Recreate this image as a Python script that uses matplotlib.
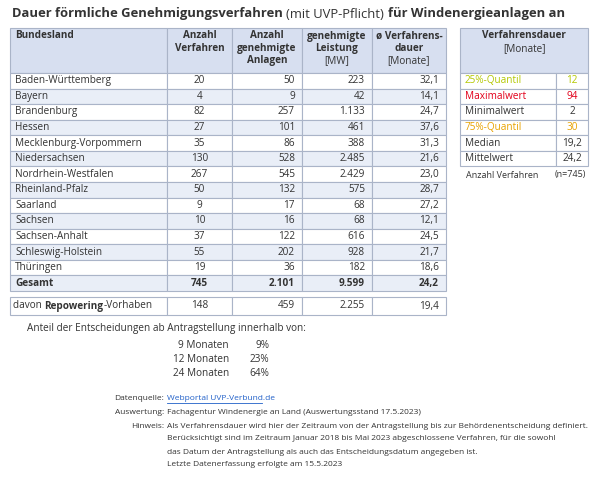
import matplotlib.pyplot as plt
from matplotlib.patches import Rectangle

plt.rcParams['font.family'] = ['Open Sans', 'DejaVu Sans']

laender = ['Baden-Württemberg', 'Bayern', 'Brandenburg', 'Hessen', 'Mecklenburg-Vorpommern',
           'Niedersachsen', 'Nordrhein-Westfalen', 'Rheinland-Pfalz', 'Saarland', 'Sachsen',
           'Sachsen-Anhalt', 'Schleswig-Holstein', 'Thüringen']
verfahren = ['20', '4', '82', '27', '35', '130', '267', '50', '9', '10', '37', '55', '19']
anlagen = ['50', '9', '257', '101', '86', '528', '545', '132', '17', '16', '122', '202', '36']
leistung = ['223', '42', '1.133', '461', '388', '2.485', '2.429', '575', '68', '68', '616', '928', '182']
dauer = ['32,1', '14,1', '24,7', '37,6', '31,3', '21,6', '23,0', '28,7', '27,2', '12,1', '24,5', '21,7', '18,6']
gesamt = ['745', '2.101', '9.599', '24,2']
repowering = ['148', '459', '2.255', '19,4']

stat_labels = ['25%-Quantil', 'Maximalwert', 'Minimalwert', '75%-Quantil', 'Median', 'Mittelwert']
stat_values = ['12', '94', '2', '30', '19,2', '24,2']
stat_colors = ['#b4c800', '#e2001a', '#333333', '#e8a200', '#333333', '#333333']

anteil_labels = ['9 Monaten', '12 Monaten', '24 Monaten']
anteil_values = ['9%', '23%', '64%']

fig = plt.figure(figsize=(5.96, 4.83), dpi=100)
ax = fig.add_axes([0, 0, 1, 1])
ax.set_xlim(0, 596)
ax.set_ylim(483, 0)
ax.axis('off')
renderer = fig.canvas.get_renderer()

txt = '#333333'
head_bg = '#d7dff0'
stripe = '#e9eef7'
edge = '#aab4c8'
fs = 7.2

def cell(x0, y0, w, h, fc='white'):
    ax.add_patch(Rectangle((x0, y0), w, h, facecolor=fc, edgecolor=edge, lw=0.8))

def chain(x, y, parts, size):
    # draw text pieces one after another on the same line
    for s, w in parts:
        t = ax.text(x, y, s, fontsize=size, fontweight=w, color=txt, va='center')
        bb = t.get_window_extent(renderer)
        x += bb.width * 596 / fig.bbox.width

chain(12, 14, [('Dauer förmliche Genehmigungsverfahren ', 'bold'), ('(mit UVP-Pflicht) ', 'normal'),
               ('für Windenergieanlagen an', 'bold')], 9.4)

cols = [10, 167, 232, 302, 372, 446]
top, hh, rh = 28, 45, 15.57
heads = [['Bundesland'], ['Anzahl', 'Verfahren'], ['Anzahl', 'genehmigte', 'Anlagen'],
         ['genehmigte', 'Leistung', '[MW]'], ['ø Verfahrens-', 'dauer', '[Monate]']]
for i, h in enumerate(heads):
    cell(cols[i], top, cols[i + 1] - cols[i], hh, head_bg)
    for j, line in enumerate(h):
        bold = not line.startswith('[')
        if i == 0:
            ax.text(cols[0] + 5, top + 8, line, fontsize=fs, fontweight='bold', color=txt, va='center')
        else:
            ax.text((cols[i] + cols[i + 1]) / 2, top + 8 + j * 12.5, line, fontsize=fs,
                    fontweight='bold' if bold else 'normal', color=txt, ha='center', va='center')

rows = [[l, a, b, c, d] for l, a, b, c, d in zip(laender, verfahren, anlagen, leistung, dauer)]
rows.append(['Gesamt'] + gesamt)
for r, row in enumerate(rows):
    y = top + hh + r * rh
    bold = r == len(rows) - 1
    fc = stripe if (r % 2 == 1 or bold) else 'white'
    for i in range(5):
        cell(cols[i], y, cols[i + 1] - cols[i], rh, fc)
    w = 'bold' if bold else 'normal'
    ax.text(cols[0] + 5, y + rh / 2, row[0], fontsize=fs, fontweight=w, color=txt, va='center')
    ax.text((cols[1] + cols[2]) / 2, y + rh / 2, row[1], fontsize=fs, fontweight=w, color=txt, ha='center', va='center')
    for i in (2, 3, 4):
        ax.text(cols[i + 1] - 7, y + rh / 2, row[i], fontsize=fs, fontweight=w, color=txt, ha='right', va='center')

# repowering row
y = 297
for i in range(5):
    cell(cols[i], y, cols[i + 1] - cols[i], 18)
chain(cols[0] + 3, y + 9, [('davon ', 'normal'), ('Repowering', 'bold'), ('-Vorhaben', 'normal')], fs)
ax.text((cols[1] + cols[2]) / 2, y + 9, repowering[0], fontsize=fs, color=txt, ha='center', va='center')
for i in (2, 3, 4):
    ax.text(cols[i + 1] - 7, y + 9, repowering[i - 1], fontsize=fs, color=txt, ha='right', va='center')

# right table
rx0, rx1, rx2 = 460, 556, 588
cell(rx0, top, rx2 - rx0, hh, head_bg)
ax.text((rx0 + rx2) / 2, top + 8, 'Verfahrensdauer', fontsize=fs, fontweight='bold', color=txt, ha='center', va='center')
ax.text((rx0 + rx2) / 2, top + 20.5, '[Monate]', fontsize=fs, color=txt, ha='center', va='center')
for r, (lab, val, c) in enumerate(zip(stat_labels, stat_values, stat_colors)):
    y = top + hh + r * rh
    cell(rx0, y, rx1 - rx0, rh)
    cell(rx1, y, rx2 - rx1, rh)
    ax.text(rx0 + 5, y + rh / 2, lab, fontsize=fs, color=c, va='center')
    ax.text((rx1 + rx2) / 2, y + rh / 2, val, fontsize=fs, color=c, ha='center', va='center')
ax.text(466, 175, 'Anzahl Verfahren', fontsize=6.5, color=txt, va='center')
ax.text(586, 175, '(n=745)', fontsize=6.5, color=txt, ha='right', va='center')

# shares
ax.text(27, 329, 'Anteil der Entscheidungen ab Antragstellung innerhalb von:', fontsize=fs, color=txt, va='center')
for k, (lab, val) in enumerate(zip(anteil_labels, anteil_values)):
    ax.text(229, 345 + k * 14, lab, fontsize=fs, color=txt, ha='right', va='center')
    ax.text(269, 345 + k * 14, val, fontsize=fs, color=txt, ha='right', va='center')

# notes
nf = 6.0
ax.text(164, 398, 'Datenquelle:', fontsize=nf, color=txt, ha='right', va='center')
ax.text(167, 398, 'Webportal UVP-Verbund.de', fontsize=nf, color='#1f5fc8', va='center')
ax.plot([167, 262], [402.5, 402.5], color='#1f5fc8', lw=0.6)
ax.text(164, 412, 'Auswertung:', fontsize=nf, color=txt, ha='right', va='center')
ax.text(167, 412, 'Fachagentur Windenergie an Land (Auswertungsstand 17.5.2023)', fontsize=nf, color=txt, va='center')
ax.text(164, 426, 'Hinweis:', fontsize=nf, color=txt, ha='right', va='center')
hinweis = ['Als Verfahrensdauer wird hier der Zeitraum von der Antragstellung bis zur Behördenentscheidung definiert.',
           'Berücksichtigt sind im Zeitraum Januar 2018 bis Mai 2023 abgeschlossene Verfahren, für die sowohl',
           'das Datum der Antragstellung als auch das Entscheidungsdatum angegeben ist.',
           'Letzte Datenerfassung erfolgte am 15.5.2023']
for k, line in enumerate(hinweis):
    ax.text(167, 426 + k * 13, line, fontsize=nf, color=txt, va='center')

fig.savefig('out.png', dpi=100)
